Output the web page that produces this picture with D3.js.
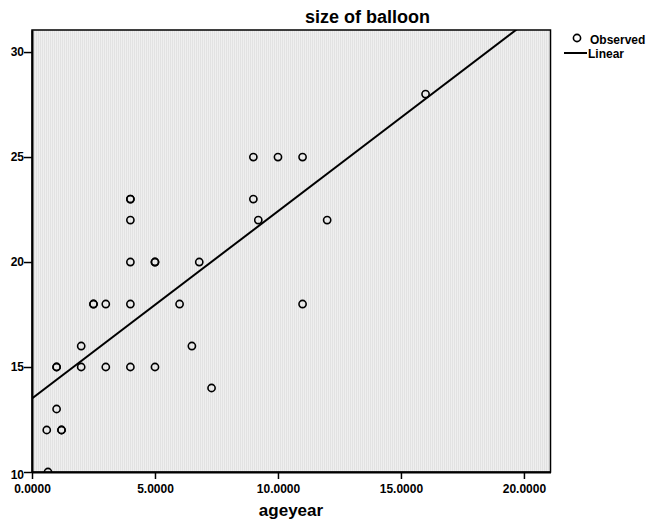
<!DOCTYPE html>
<html lang="en">
<head>
  <meta charset="UTF-8">
  <title>size of balloon</title>
  <script src="https://d3js.org/d3.v7.min.js"></script>
  <style>
    body {
      margin: 0;
      background: #fff;
      font-family: "Liberation Sans", Arial, sans-serif;
    }
    .tick text {
      font-size: 12px;
      font-weight: bold;
      fill: #000;
    }
  </style>
</head>
<body>
  <svg id="chart" width="647" height="525"></svg>

  <script>
    // observed points: age in years and balloon size
    const ageyear = [16, 9, 10, 11, 9, 4, 4, 4, 9.2, 12, 4, 5, 5, 6.8, 2.5, 2.5, 3, 4, 6, 11,
                     2, 6.5, 1, 1, 2, 3, 4, 5, 7.3, 1, 0.6, 1.2, 1.2, 0.65];
    const balloonSize = [28, 25, 25, 25, 23, 23, 23, 22, 22, 22, 20, 20, 20, 20, 18, 18, 18, 18, 18, 18,
                         16, 16, 15, 15, 15, 15, 15, 15, 14, 13, 12, 12, 12, 10];

    // linear fit
    const fitIntercept = 13.5;
    const fitSlope = 0.892;

    const xTicks = [0, 5, 10, 15, 20];
    const yTicks = [10, 15, 20, 25, 30];

    const svg = d3.select("#chart");

    const plotL = 32, plotR = 550.5, plotT = 30, plotB = 472;

    const x = d3.scaleLinear().domain([0, 21.08]).range([plotL, plotR]);
    const y = d3.scaleLinear().domain([10, 31.05]).range([plotB, plotT]);

    const defs = svg.append("defs");
    const pat = defs.append("pattern")
      .attr("id", "stripes")
      .attr("patternUnits", "userSpaceOnUse")
      .attr("width", 2)
      .attr("height", 4);
    pat.append("rect").attr("width", 1).attr("height", 4).attr("fill", "#e2e2e2");
    pat.append("rect").attr("x", 1).attr("width", 1).attr("height", 4).attr("fill", "#efefef");

    defs.append("clipPath").attr("id", "plot-clip")
      .append("rect")
      .attr("x", plotL).attr("y", plotT)
      .attr("width", plotR - plotL).attr("height", plotB - plotT);

    // plot background
    svg.append("rect")
      .attr("x", plotL).attr("y", plotT)
      .attr("width", plotR - plotL).attr("height", plotB - plotT)
      .attr("fill", "url(#stripes)");

    const plot = svg.append("g").attr("clip-path", "url(#plot-clip)");

    // fit line
    const x0 = 0, x1 = 21.08;
    plot.append("line")
      .attr("x1", x(x0)).attr("y1", y(fitIntercept + fitSlope * x0))
      .attr("x2", x(x1)).attr("y2", y(fitIntercept + fitSlope * x1))
      .attr("stroke", "#000")
      .attr("stroke-width", 2);

    // points
    plot.selectAll("circle.obs")
      .data(ageyear.map((a, i) => ({ a: a, s: balloonSize[i] })))
      .enter().append("circle")
      .attr("class", "obs")
      .attr("cx", d => x(d.a))
      .attr("cy", d => y(d.s))
      .attr("r", 3.6)
      .attr("fill", "none")
      .attr("stroke", "#000")
      .attr("stroke-width", 1.6);

    // frame (top and right)
    svg.append("rect")
      .attr("x", plotL).attr("y", plotT)
      .attr("width", plotR - plotL).attr("height", plotB - plotT)
      .attr("fill", "none")
      .attr("stroke", "#000")
      .attr("stroke-width", 1.5);

    // axes
    const xAxis = svg.append("g")
      .attr("transform", `translate(0,${plotB})`)
      .call(d3.axisBottom(x).tickValues(xTicks).tickFormat(d3.format(".4f")).tickSize(7).tickSizeOuter(0));
    xAxis.select(".domain").attr("stroke-width", 2);
    xAxis.selectAll(".tick line").attr("stroke-width", 1.5);
    xAxis.selectAll(".tick text").attr("dy", "0.75em").attr("y", 12);

    const yAxis = svg.append("g")
      .attr("transform", `translate(${plotL},0)`)
      .call(d3.axisLeft(y).tickValues(yTicks).tickSize(8).tickSizeOuter(0));
    yAxis.select(".domain").attr("stroke-width", 2);
    yAxis.selectAll(".tick line").attr("stroke-width", 1.5);
    yAxis.selectAll(".tick text").attr("x", -8);
    yAxis.selectAll(".tick").filter(d => d === 10).select("text").attr("dy", "0.5em");

    // title and axis label
    svg.append("text")
      .attr("x", 367.5).attr("y", 23)
      .attr("text-anchor", "middle")
      .style("font-size", "18px").style("font-weight", "bold")
      .text("size of balloon");

    svg.append("text")
      .attr("x", 291).attr("y", 516)
      .attr("text-anchor", "middle")
      .style("font-size", "17px").style("font-weight", "bold")
      .text("ageyear");

    // legend
    const legend = svg.append("g").style("font-size", "12px").style("font-weight", "bold");
    legend.append("circle")
      .attr("cx", 577).attr("cy", 38).attr("r", 3.6)
      .attr("fill", "none").attr("stroke", "#000").attr("stroke-width", 1.6);
    legend.append("text").attr("x", 590).attr("y", 43.5).text("Observed");
    legend.append("line")
      .attr("x1", 564).attr("x2", 587).attr("y1", 53).attr("y2", 53)
      .attr("stroke", "#000").attr("stroke-width", 2);
    legend.append("text").attr("x", 588).attr("y", 57.5).text("Linear");
  </script>
</body>
</html>
